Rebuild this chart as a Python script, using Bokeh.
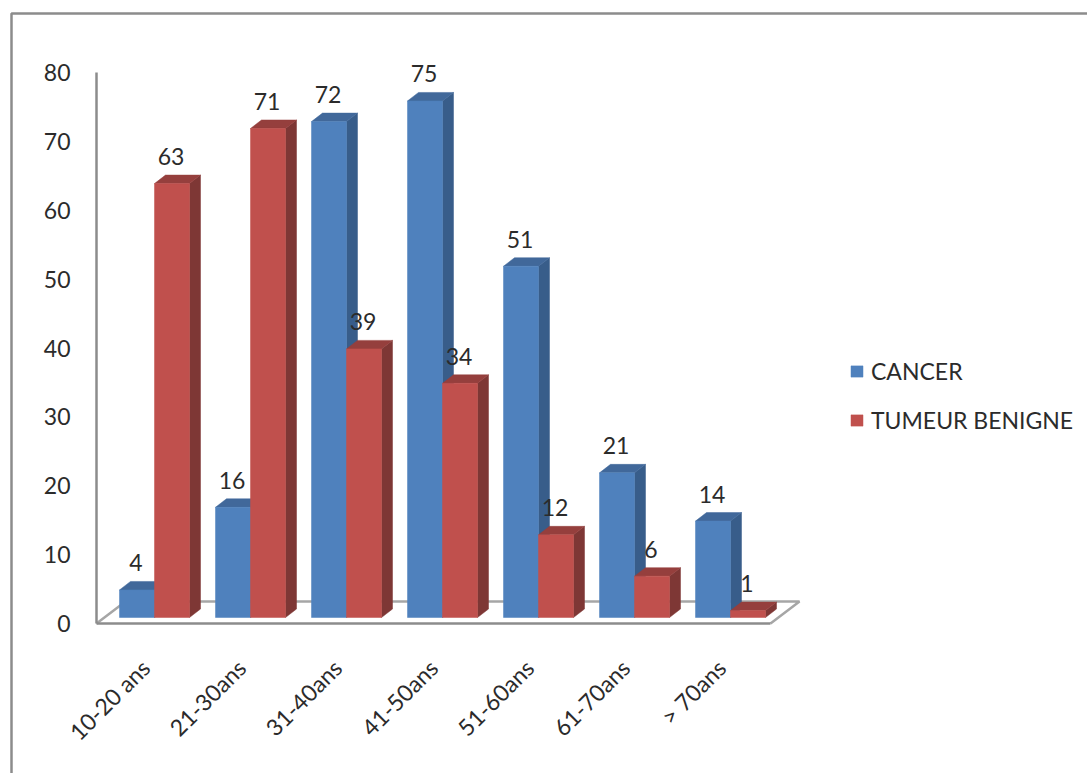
from bokeh.embed import file_html
from bokeh.resources import INLINE
from bokeh.plotting import figure
from bokeh.models import BoxAnnotation, ColumnDataSource, FixedTicker, Legend, LegendItem, Range1d
from bokeh.core.properties import value

categories = ["10-20 ans", "21-30ans", "31-40ans", "41-50ans", "51-60ans", "61-70ans", "> 70ans"]
cancer = [4, 16, 72, 75, 51, 21, 14]
tumeur = [63, 71, 39, 34, 12, 6, 1]
y_ticks = [0, 10, 20, 30, 40, 50, 60, 70, 80]

FONT = "Lato"
FONT_SIZE = "23px"
TEXT_COLOR = "#2b2b2b"
W, H = 1087, 773
AXIS_X, AXIS_Y = 96, 623   # pixel position of the two axis lines
PX_X = 96.0          # pixels per category
PX_Y = 6.8875        # pixels per value unit
CENTER0 = 154.0      # pixel of the first category's centre
BAR_W = 35 / PX_X
DX, DY = 11 / PX_X, 8.5 / PX_Y             # extrusion depth of a column
FLOOR_DX, FLOOR_DY = 29 / PX_X, 22 / PX_Y  # depth of the floor
LIFT = 6 / PX_Y      # columns stand slightly above the axis line
LABEL_SHIFT = 9 / PX_X  # rotated category labels end left of the category centre

x_start, x_stop = -CENTER0 / PX_X, (W - CENTER0) / PX_X
y_start, y_stop = -(H - AXIS_Y) / PX_Y, AXIS_Y / PX_Y
x0, x1 = (AXIS_X - CENTER0) / PX_X, (770 - CENTER0) / PX_X

p = figure(width=W, height=H, output_backend="svg", toolbar_location=None,
           min_border=0, outline_line_color=None,
           background_fill_color="white", border_fill_color="white",
           x_range=Range1d(x_start, x_stop), y_range=Range1d(y_start, y_stop))
p.grid.visible = False
p.extra_y_ranges["bars"] = Range1d(y_start - LIFT, y_stop - LIFT)
p.extra_x_ranges["labels"] = Range1d(x_start + LABEL_SHIFT, x_stop + LABEL_SHIFT)

xa, ya = p.xaxis[0], p.yaxis[0]
xa.x_range_name = "labels"
xa.fixed_location = 0
xa.ticker = FixedTicker(ticks=list(range(len(categories))))
xa.major_label_overrides = {i: c for i, c in enumerate(categories)}
xa.major_label_orientation = 0.785
xa.bounds = (x0 + LABEL_SHIFT, x1 + LABEL_SHIFT)
xa.major_label_standoff = 34
ya.fixed_location = x0
ya.ticker = FixedTicker(ticks=y_ticks)
ya.bounds = (0, 80)
ya.major_label_standoff = 20
for ax in (xa, ya):
    ax.axis_line_color = "#8c8c8c"
    ax.axis_line_width = 2.5
    ax.major_tick_line_color = None
    ax.minor_tick_line_color = None
    ax.major_label_text_font = FONT
    ax.major_label_text_font_size = FONT_SIZE
    ax.major_label_text_color = TEXT_COLOR

# Floor of the 3-D scene: back edge and the two side edges
p.line([x0, x0 + FLOOR_DX, x1 + FLOOR_DX, x1], [0, FLOOR_DY, FLOOR_DY, 0],
       line_color="#a6a6a6", line_width=2.5)


def column_series(values, shift, front, top_c, side_c):
    """Draw one series as extruded columns and return the front-face renderer."""
    xs = [i + shift for i in range(len(values))]
    left = [x - BAR_W / 2 for x in xs]
    right = [x + BAR_W / 2 for x in xs]
    side = ColumnDataSource(dict(
        xs=[[r, r + DX, r + DX, r] for r in right],
        ys=[[0, DY, v + DY, v] for v in values]))
    top = ColumnDataSource(dict(
        xs=[[l, l + DX, r + DX, r] for l, r in zip(left, right)],
        ys=[[v, v + DY, v + DY, v] for v in values]))
    p.patches("xs", "ys", source=side, fill_color=side_c, line_color=side_c,
              line_width=0.5, y_range_name="bars")
    p.patches("xs", "ys", source=top, fill_color=top_c, line_color=top_c,
              line_width=0.5, y_range_name="bars")
    return p.vbar(x=xs, top=values, bottom=0, width=BAR_W, fill_color=front,
                  line_color=front, line_width=0.5, y_range_name="bars")


blue = column_series(cancer, -BAR_W / 2, "#4f81bd", "#41689a", "#385d8a")
red = column_series(tumeur, BAR_W / 2, "#c0504d", "#953f3d", "#7e3735")

# Value labels above each column
for values, shift in ((cancer, -BAR_W / 2), (tumeur, BAR_W / 2)):
    p.text(x=[i + shift for i in range(len(values))], y=values, text=[str(v) for v in values],
           y_range_name="bars", text_font=value(FONT), text_font_size=FONT_SIZE,
           text_color=TEXT_COLOR, text_align="center", text_baseline="alphabetic",
           x_offset=-1, y_offset=-27)

legend = Legend(items=[LegendItem(label="CANCER", renderers=[blue]),
                       LegendItem(label="TUMEUR BENIGNE", renderers=[red])],
                location=(849, H - 434),
                background_fill_alpha=0, border_line_color=None, padding=0, margin=0,
                glyph_width=15, glyph_height=14, label_standoff=7, spacing=21,
                label_text_font=FONT, label_text_font_size=FONT_SIZE,
                label_text_color=TEXT_COLOR, label_height=27)
p.add_layout(legend)

# Outer chart border, running off the top-right and bottom edges
p.add_layout(BoxAnnotation(left=11, right=W + 40, top=13, bottom=H + 40,
                           left_units="canvas", right_units="canvas",
                           top_units="canvas", bottom_units="canvas",
                           fill_alpha=0, line_color="#8c8c8c", line_alpha=1, line_width=2.5))

open("out.html", "w").write(file_html(p, INLINE))
